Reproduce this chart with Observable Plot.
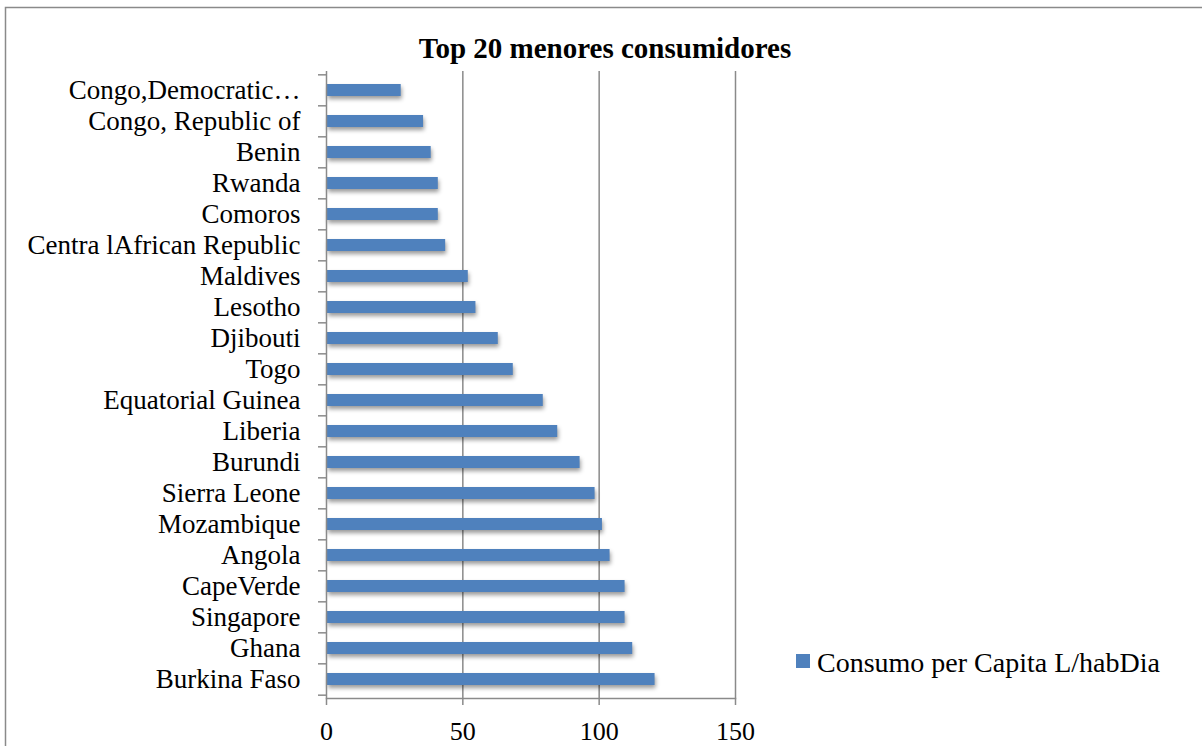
<!DOCTYPE html>
<html>
<head>
<meta charset="utf-8">
<script src="https://cdn.jsdelivr.net/npm/d3@7"></script>
<script src="https://cdn.jsdelivr.net/npm/@observablehq/plot@0.6"></script>
<style>
  html, body { margin: 0; padding: 0; background: #fff; }
  #chart svg { display: block; }
  #chart g[aria-label="bar"] { filter: drop-shadow(1px 3px 2px rgba(0,0,0,0.4)); }
</style>
</head>
<body>
<div id="chart"></div>
<script>
// Countries, top to bottom as listed on the chart
const countries = [
  "Congo,Democratic…",
  "Congo, Republic of",
  "Benin",
  "Rwanda",
  "Comoros",
  "Centra lAfrican Republic",
  "Maldives",
  "Lesotho",
  "Djibouti",
  "Togo",
  "Equatorial Guinea",
  "Liberia",
  "Burundi",
  "Sierra Leone",
  "Mozambique",
  "Angola",
  "CapeVerde",
  "Singapore",
  "Ghana",
  "Burkina Faso"
];

// Per-capita consumption, litres per inhabitant per day
const consumo = [
  27.4, 35.6, 38.4, 41.0, 41.0, 43.7, 52.0, 54.8, 63.0, 68.5,
  79.5, 84.8, 93.0, 98.5, 101.2, 104.0, 109.5, 109.5, 112.3, 120.5
];

const xTicks = [0, 50, 100, 150];
const chartTitle = "Top 20 menores consumidores";
const seriesName = "Consumo per Capita L/habDia";

const data = countries.map((c, i) => ({country: c, value: consumo[i]}));

const W = 1202, H = 746;
const mTop = 71, mBottom = 48, mLeft = 326, mRight = 467;
const step = (H - mTop - mBottom) / countries.length;
const grey = "#8a8a8a";
const font = "'Liberation Serif', 'Times New Roman', serif";

const plot = Plot.plot({
  width: W,
  height: H,
  marginTop: mTop,
  marginBottom: mBottom,
  marginLeft: mLeft,
  marginRight: mRight,
  style: {fontFamily: font, color: "#000", background: "#fff"},
  x: {domain: [0, 150], label: null},
  y: {domain: countries, paddingInner: 0.6, paddingOuter: 0.3, label: null},
  marks: [
    // vertical gridlines
    Plot.ruleX(xTicks.slice(1), {stroke: grey, strokeWidth: 1.5}),
    Plot.barX(data, {y: "country", x: "value", fill: "#4F81BD", insetLeft: 1}),
    // category labels
    Plot.axisY({tickSize: 0, tickPadding: 26, fontSize: 27, fill: "#000", label: null}),
    // boundary ticks between categories
    Plot.axisY({text: null, tickSize: 8, dy: -step / 2, stroke: grey, strokeWidth: 1.5, label: null}),
    Plot.axisY([countries[countries.length - 1]], {text: null, tickSize: 8, dy: step / 2, stroke: grey, strokeWidth: 1.5, label: null}),
    // value axis
    Plot.axisX({ticks: xTicks, tickSize: 7, tickPadding: 16, fontSize: 26, fill: "#000", stroke: grey, strokeWidth: 1.5, tickFormat: d3.format("d"), label: null}),
    Plot.ruleX([0], {stroke: grey, strokeWidth: 1.5}),
    Plot.frame({anchor: "bottom", stroke: grey, strokeWidth: 1.5}),
    // title
    Plot.text([chartTitle], {frameAnchor: "top", dx: 74, dy: -23, lineAnchor: "middle", fontSize: 29, fontWeight: "bold", fill: "#000"})
  ]
});

const svg = d3.select(plot);

// legend
const legend = svg.append("g");
legend.append("rect")
  .attr("x", 796).attr("y", 654).attr("width", 14).attr("height", 14)
  .attr("fill", "#4F81BD");
legend.append("text")
  .attr("x", 817).attr("y", 662).attr("dy", "0.35em")
  .attr("text-anchor", "start")
  .attr("font-size", 28).attr("font-family", font).attr("fill", "#000")
  .text(seriesName);

// chart area border
svg.append("rect")
  .attr("x", 5.5).attr("y", 7.5).attr("width", 1400).attr("height", 1000)
  .attr("fill", "none").attr("stroke", grey).attr("stroke-width", 1.5);

document.getElementById("chart").appendChild(plot);
</script>
</body>
</html>
